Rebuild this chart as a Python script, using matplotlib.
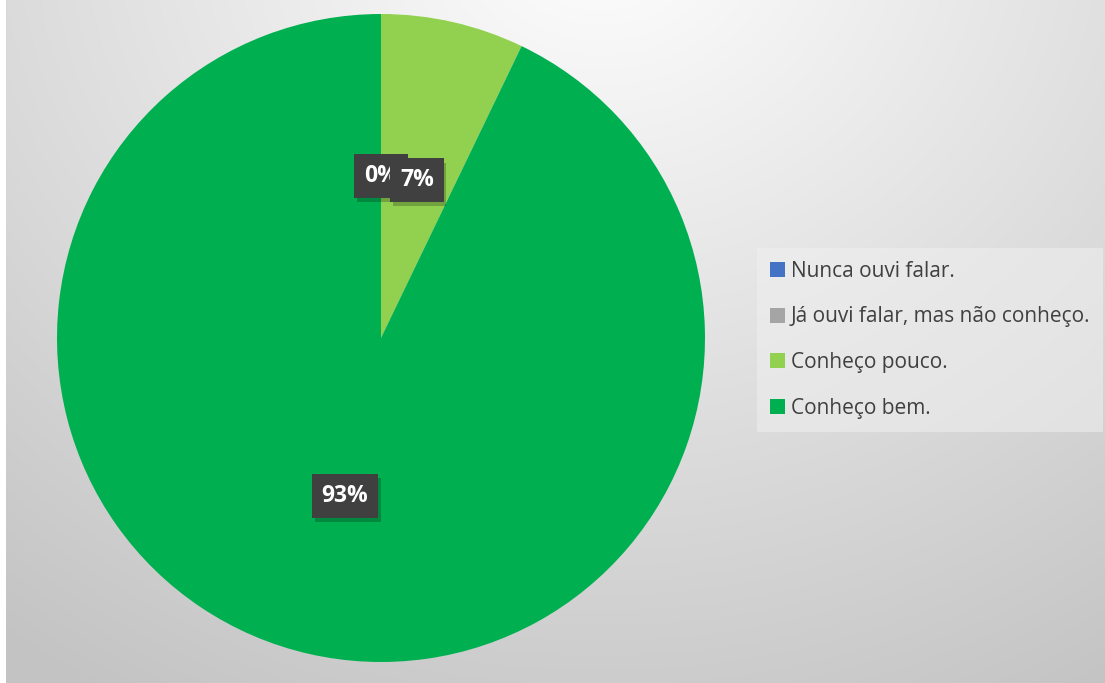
import numpy as np
import matplotlib.pyplot as plt
from matplotlib.patches import Patch
import matplotlib.patheffects as pe

# Respostas (contagens) por categoria
categories = ['Nunca ouvi falar.', 'Já ouvi falar, mas não conheço.',
              'Conheço pouco.', 'Conheço bem.']
counts = [0, 0, 1, 13]
colors = ['#4472C4', '#A5A5A5', '#92D050', '#00B050']

W, H = 1105, 683
fig = plt.figure(figsize=(W / 100, H / 100), dpi=100, facecolor='white')

# background gradient (light at top, grey towards bottom / left)
bg = fig.add_axes([6 / W, 0, 1 - 6 / W, 1], zorder=-1)
xx, yy = np.meshgrid(np.arange(W - 6) + 6, np.arange(H))
r = np.sqrt(((xx - 600) / 1000.0) ** 2 + ((yy + 80) / 900.0) ** 2)
val = 255 - 60 * np.clip(r, 0, 1)
img = np.dstack([val, val, val]) / 255.0
bg.imshow(img, aspect='auto', interpolation='bilinear')
bg.axis('off')

# pie: center (381, 338) px, radius 324 px
box = 330
ax = fig.add_axes([(381 - box) / W, (H - 338 - box) / H, 2 * box / W, 2 * box / H])
ax.patch.set_alpha(0)

wedges, texts, autotexts = ax.pie(counts, colors=colors, startangle=90, counterclock=False,
                                  radius=324 / box, autopct='%1.0f%%', pctdistance=0.5,
                                  wedgeprops=dict(linewidth=0))
ax.set_xlim(-1, 1)
ax.set_ylim(-1, 1)
ax.set_aspect('equal')
ax.axis('off')

for t in autotexts:
    t.set_fontfamily('Open Sans')
    t.set_fontweight('bold')
    t.set_fontsize(16.5)
    t.set_color('white')
    t.set_bbox(dict(boxstyle='square,pad=0.42', facecolor='#404040', edgecolor='none'))
    t.get_bbox_patch().set_path_effects([pe.SimplePatchShadow(offset=(2, -3), shadow_rgbFace='black',
                                                              alpha=0.22),
                                         pe.Normal()])
# the two zero labels sit on top of each other; keep only one visible
autotexts[1].set_visible(False)

handles = [Patch(facecolor=c, edgecolor='none') for c in colors]
leg = fig.legend(handles, categories, loc='upper left',
                 bbox_to_anchor=(757 / W, 1 - 248 / H),
                 frameon=True, fancybox=False, framealpha=0.55,
                 facecolor='#f0f0f0', edgecolor='none',
                 prop={'family': 'Open Sans', 'size': 15},
                 handlelength=0.72, handleheight=0.72, handletextpad=0.28,
                 labelspacing=1.18, borderpad=0.62, borderaxespad=0)
for t in leg.get_texts():
    t.set_color('#404040')

fig.savefig('out.png', dpi=100)
